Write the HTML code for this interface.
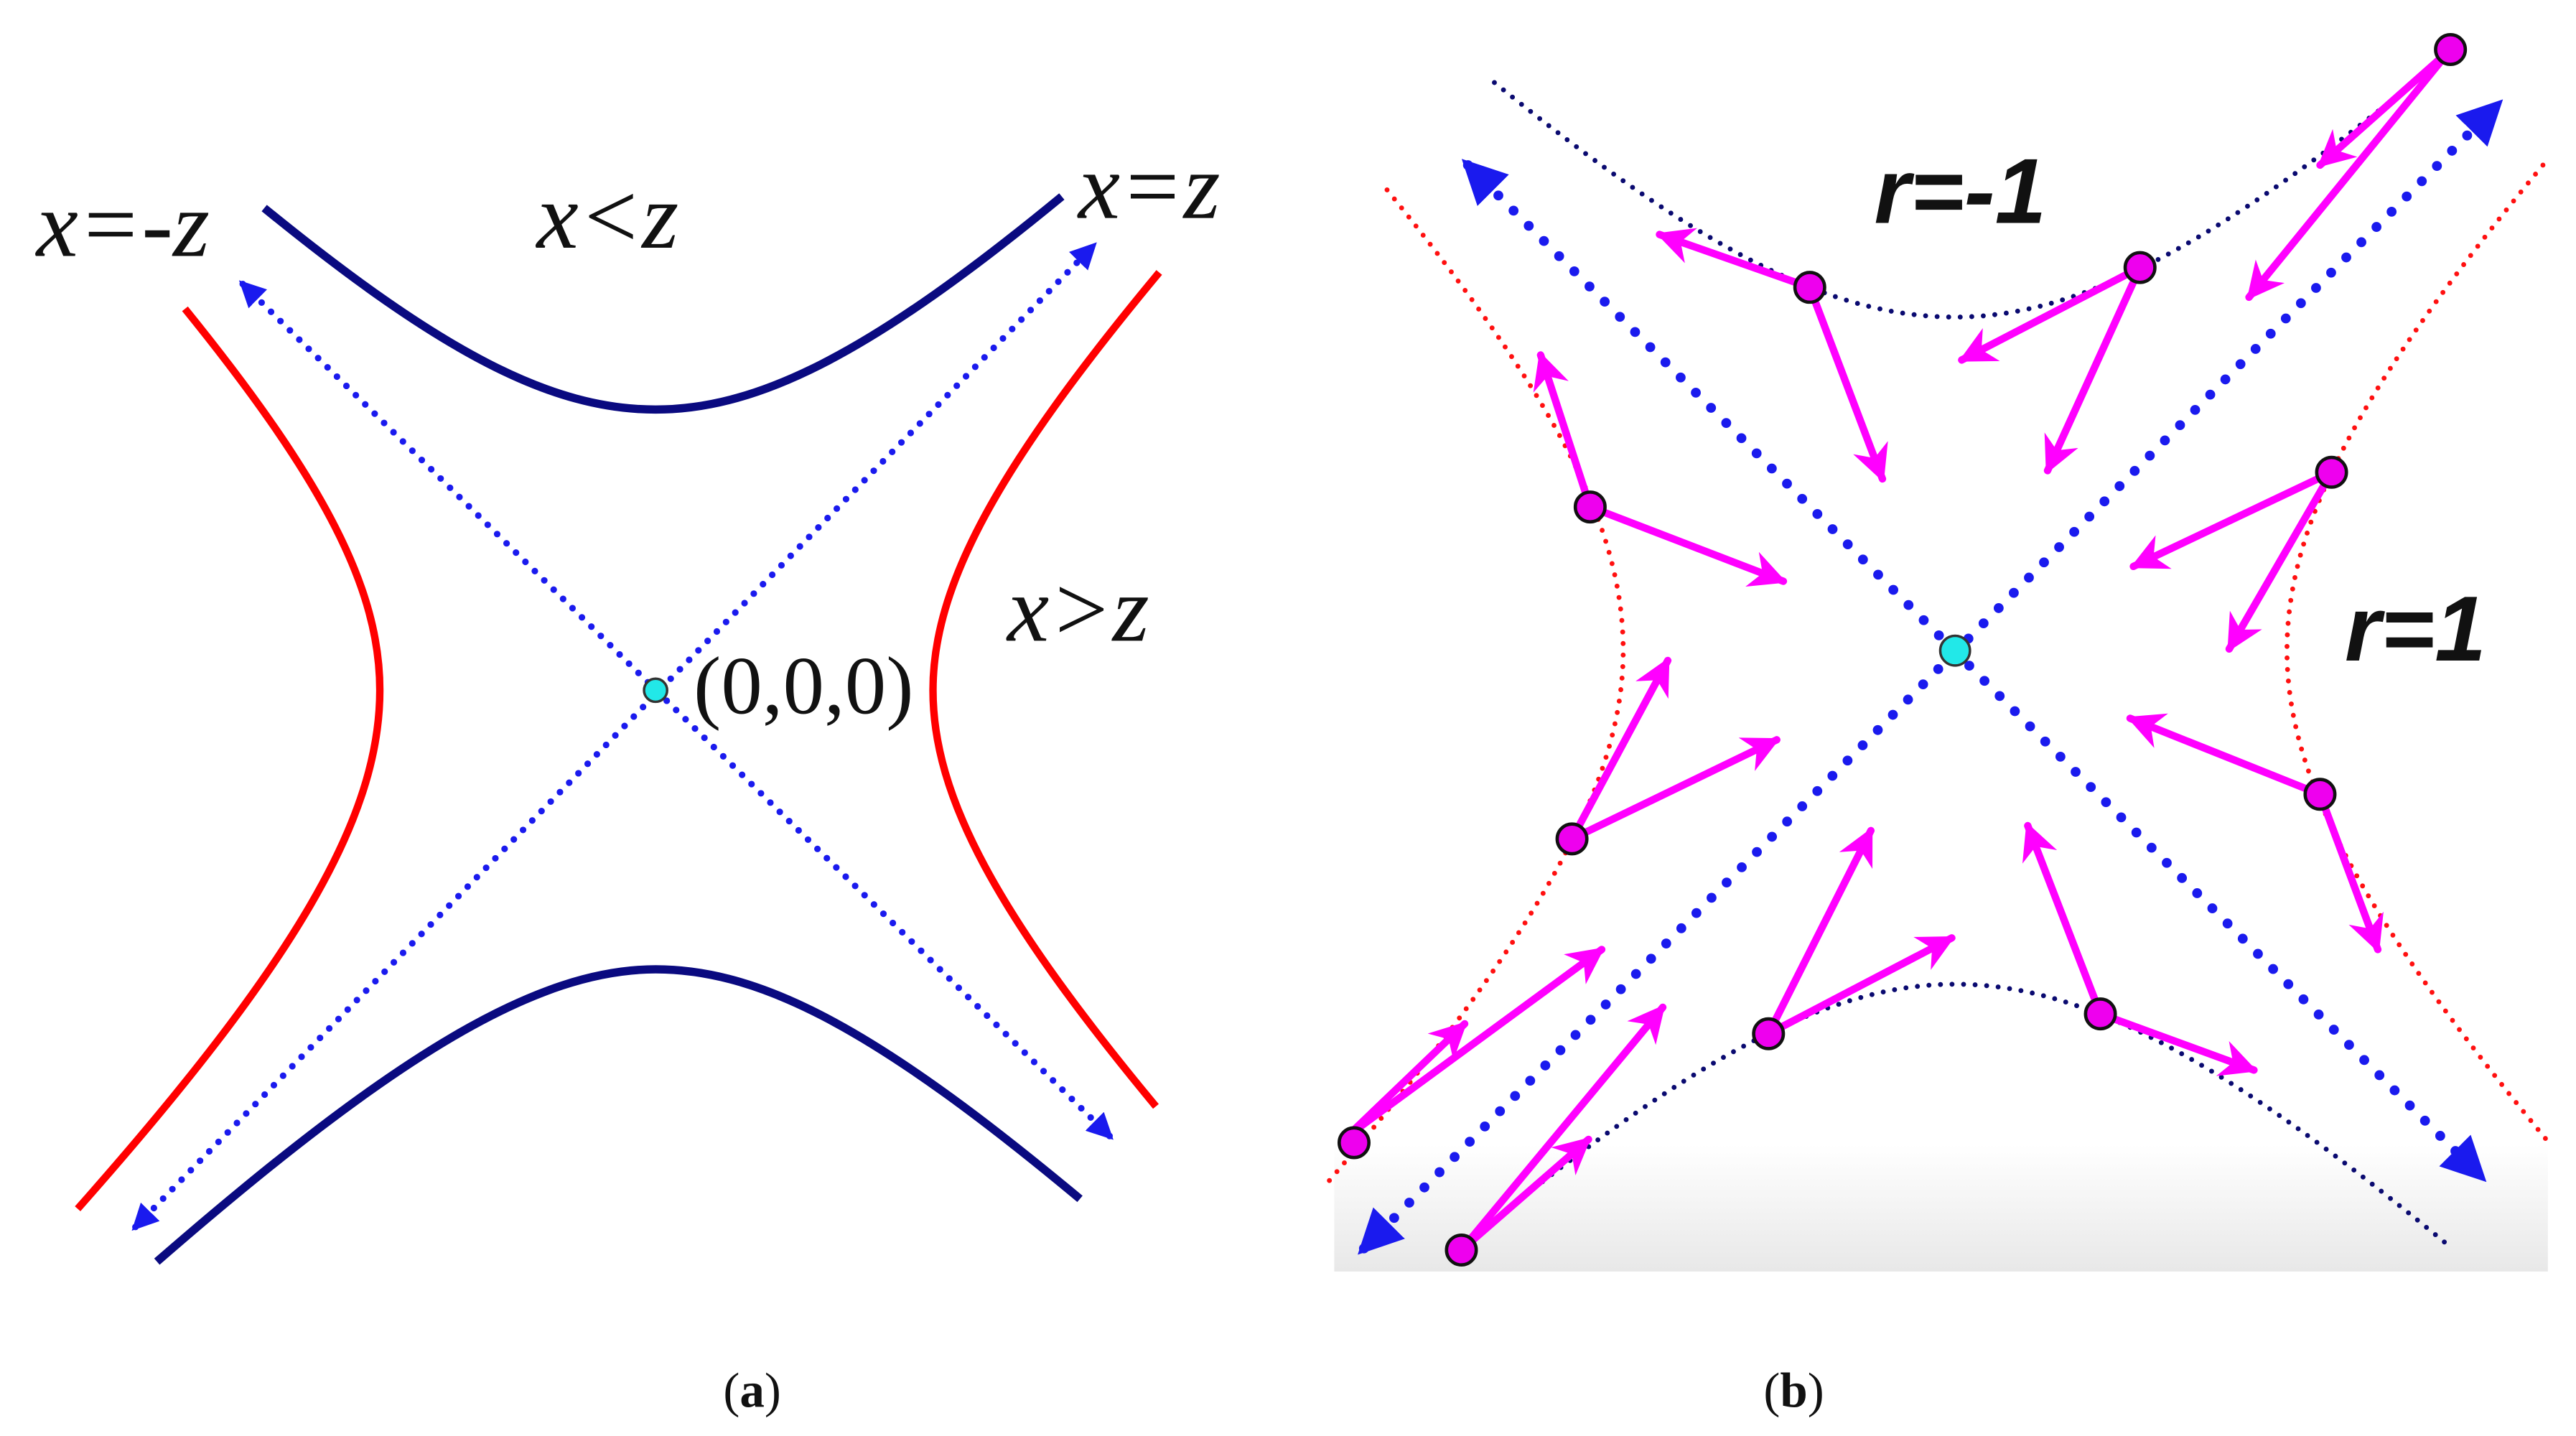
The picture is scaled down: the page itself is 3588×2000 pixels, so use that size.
<!DOCTYPE html>
<html><head><meta charset="utf-8"><style>html,body{margin:0;padding:0;background:#fff}svg{display:block}</style></head>
<body>
<svg width="3588" height="2000" viewBox="0 0 1560 869.6" xmlns="http://www.w3.org/2000/svg">
<defs>
<marker id="ab" viewBox="0 0 10 10" refX="8" refY="5" markerWidth="4" markerHeight="4" orient="auto-start-reverse"><path d="M0,0 L10,5 L0,10 z" fill="#1a1aee"/></marker>
<marker id="ab2" viewBox="0 0 10 10" refX="8" refY="5" markerWidth="4.5" markerHeight="4.5" orient="auto-start-reverse"><path d="M0,0 L10,5 L0,10 z" fill="#1a1aee"/></marker>
<marker id="am" viewBox="0 0 10 10" refX="9" refY="5" markerWidth="5" markerHeight="5" orient="auto"><path d="M0,0 L10,5 L0,10 L3,5 z" fill="#ff00ff"/></marker>
<linearGradient id="bg" x1="0" y1="0" x2="0" y2="1"><stop offset="0.9" stop-color="#fff"/><stop offset="1" stop-color="#e8e8e8"/></linearGradient>
</defs>
<!-- panel a -->
<g fill="none">
<path d="M160,126 C268,214 334,248 397,248 C461,248 530,212 643,119" stroke="#0a0a80" stroke-width="5"/>
<path d="M95,764 C241,637 326,587 397,587 C463,587 534,626 654,726" stroke="#0a0a80" stroke-width="5"/>
<path d="M112,187 C197,292 230,357 230,418 C230,495 179,583 47,732" stroke="#ff0000" stroke-width="4.5"/>
<path d="M702,165 C603,284 565,355 565,418 C565,482 603,553 700,670" stroke="#ff0000" stroke-width="4.5"/>
</g>
<line x1="147" y1="172" x2="672" y2="688" stroke="#1a1aee" stroke-width="4" stroke-dasharray="0 8" stroke-linecap="round" marker-start="url(#ab)" marker-end="url(#ab)"/>
<line x1="82" y1="743" x2="662" y2="149" stroke="#1a1aee" stroke-width="4" stroke-dasharray="0 8" stroke-linecap="round" marker-start="url(#ab)" marker-end="url(#ab)"/>
<circle cx="397" cy="418" r="7" fill="#22e8e8" stroke="#333" stroke-width="1.5"/>
<g font-family="Liberation Serif, serif" font-size="57" fill="#111">
<text x="22" y="155" font-style="italic">x=-z</text>
<text x="325" y="150" font-style="italic">x&lt;z</text>
<text x="653" y="132" font-style="italic">x=z</text>
<text x="610" y="388" font-style="italic">x&gt;z</text>
<text x="420" y="432" font-size="50">(0,0,0)</text>
<text x="438" y="852" font-size="30">(<tspan font-weight="bold">a</tspan>)</text>
<text x="1068" y="852" font-size="30">(<tspan font-weight="bold">b</tspan>)</text>
</g>
<!-- panel b -->
<rect x="808" y="0" width="735" height="770" fill="url(#bg)"/>
<g fill="none" stroke-dasharray="0 7" stroke-linecap="round" stroke-width="3">
<path d="M905,50 C1031,152 1109,192 1184,192 C1262,192 1347,146 1490,27" stroke="#0a0a70"/>
<path d="M885,755 C1023,641 1107,596 1184,596 C1262,596 1346,641 1485,756" stroke="#0a0a70"/>
<path d="M840,115 C943,242 983,320 983,394 C983,474 933,564 805,715" stroke="#ff1010"/>
<path d="M1540,100 C1428,235 1385,318 1385,394 C1385,470 1429,553 1542,690" stroke="#ff1010"/>
</g>
<line x1="889" y1="100" x2="1502" y2="712" stroke="#1a1aee" stroke-width="6" stroke-dasharray="0 13" stroke-linecap="round" marker-start="url(#ab2)" marker-end="url(#ab2)"/>
<line x1="826" y1="756" x2="1512" y2="64" stroke="#1a1aee" stroke-width="6" stroke-dasharray="0 13" stroke-linecap="round" marker-start="url(#ab2)" marker-end="url(#ab2)"/>
<g stroke="#ff00ff" stroke-width="4.5" stroke-linecap="round" marker-end="url(#am)">
<line x1="1096" y1="174" x2="1005" y2="142"/><line x1="1096" y1="174" x2="1140" y2="290"/>
<line x1="1296" y1="162" x2="1188" y2="218"/><line x1="1296" y1="162" x2="1240" y2="285"/>
<line x1="1484" y1="30" x2="1405" y2="100"/><line x1="1484" y1="30" x2="1362" y2="180"/>
<line x1="963" y1="307" x2="933" y2="215"/><line x1="963" y1="307" x2="1080" y2="352"/>
<line x1="1412" y1="286" x2="1292" y2="343"/><line x1="1412" y1="286" x2="1350" y2="393"/>
<line x1="1405" y1="481" x2="1290" y2="435"/><line x1="1405" y1="481" x2="1440" y2="575"/>
<line x1="952" y1="508" x2="1010" y2="400"/><line x1="952" y1="508" x2="1076" y2="448"/>
<line x1="1071" y1="626" x2="1133" y2="503"/><line x1="1071" y1="626" x2="1182" y2="568"/>
<line x1="1272" y1="614" x2="1228" y2="500"/><line x1="1272" y1="614" x2="1365" y2="648"/>
<line x1="816" y1="688" x2="970" y2="575"/><line x1="816" y1="688" x2="887" y2="620"/>
<line x1="885" y1="757" x2="1007" y2="610"/><line x1="885" y1="757" x2="962" y2="690"/>
</g>
<g fill="#ee00ee" stroke="#111" stroke-width="2">
<circle cx="1096" cy="174" r="9"/><circle cx="1296" cy="162" r="9"/><circle cx="1484" cy="30" r="9"/>
<circle cx="963" cy="307" r="9"/><circle cx="1412" cy="286" r="9"/><circle cx="1405" cy="481" r="9"/>
<circle cx="952" cy="508" r="9"/><circle cx="1071" cy="626" r="9"/><circle cx="1272" cy="614" r="9"/>
<circle cx="820" cy="692" r="9"/><circle cx="885" cy="757" r="9"/>
</g>
<circle cx="1184" cy="394" r="9" fill="#22e8e8" stroke="#333" stroke-width="1.5"/>
<g font-family="Liberation Sans, sans-serif" font-size="56" font-style="italic" font-weight="bold" fill="#111">
<text x="1135" y="135">r=-1</text>
<text x="1420" y="400">r=1</text>
</g>
</svg>
</body></html>
